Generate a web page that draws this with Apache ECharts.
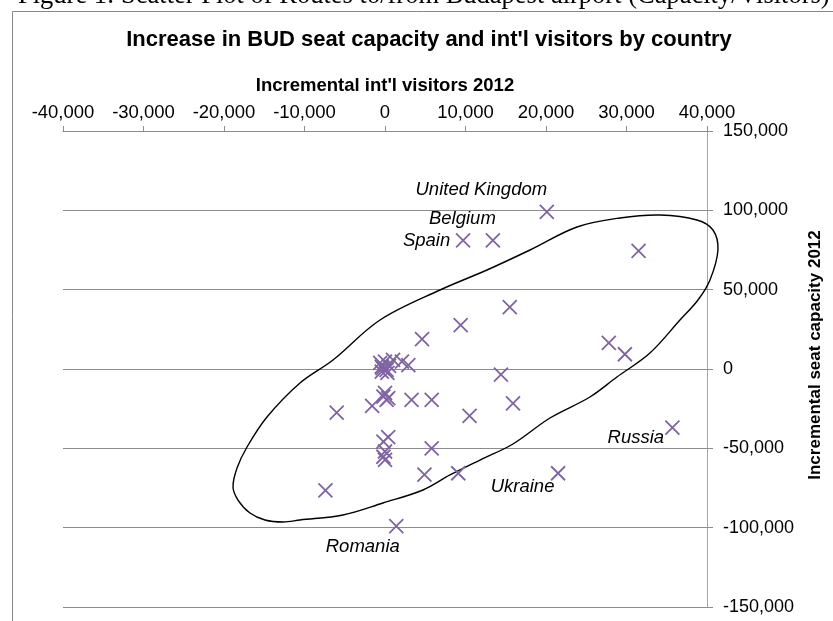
<!DOCTYPE html>
<html>
<head>
<meta charset="utf-8">
<title>Increase in BUD seat capacity and int'l visitors by country</title>
<script src="https://cdn.jsdelivr.net/npm/echarts@6/dist/echarts.min.js"></script>
<style>
  html, body { margin: 0; padding: 0; background: #fff; }
  #chart { width: 833px; height: 621px; }
</style>
</head>
<body>
<div id="chart"></div>
<script>
// Incremental int'l visitors 2012 (x) and incremental BUD seat capacity 2012 (y), one entry per country
const countries = [
  'United Kingdom', 'Spain', 'Belgium', '', '', '', '', '', '', 'Russia',
  'Ukraine', '', '', '', '', '', '', 'Romania', '', '',
  '', '', '', '', '', '', '', '', '', '',
  '', '', '', '', '', '', '', '', '', '',
  '', '', ''
];
const visitors = [
  20100, 9700, 13400, 31500, 15500, 9400, 4600, 27800, 29800, 35700,
  21500, 14400, 15900, 10500, 9100, 5800, 4900, 1400, -7400, -6000,
  -1600, 3300, 5800, -200, 200, 0, 400, 400, -200, 0,
  -200, 0, -400, 0, 1000, 2100, 2900, -400, 200, -300,
  500, -600, 300
];
const seatCapacity = [
  99000, 81000, 81000, 74500, 39000, 27700, 18900, 16500, 9300, -37000,
  -65700, -3600, -21600, -29600, -65700, -50000, -66600, -99000, -76500, -27500,
  -23300, -19500, -19500, -17400, -19500, -15000, -18300, -43000, -45800, -52000,
  -55300, -57300, 1500, 4600, 5700, 4600, 2500, -1700, -600, 600,
  1900, 3800, -2500
];

// Hand-drawn grouping outline (visitors, seat capacity)
const outlineVisitors = [
  -18880, -18380, -17140, -14660, -10560, -6460, -620, 6830, 12670, 18010,
  23850, 29190, 34160, 38750, 40740, 41360, 40370, 38880, 36640, 32910,
  28810, 25460, 20490, 15900, 11800, 8070, 4720, -250, -5220, -10560,
  -12670, -14910, -16770, -18260
];
const outlineSeats = [
  -74380, -62400, -49150, -30250, -8820, 5670, 30880, 49790, 62400, 75000,
  89500, 95180, 97060, 93910, 87610, 75000, 56100, 43500, 30880, 10080,
  -5040, -17650, -30880, -47270, -57360, -66800, -76250, -84440, -92000, -95150,
  -96410, -95150, -90760, -82570
];

// Axis ranges and steps
const xMin = -40000, xMax = 40000, xStep = 10000;
const yMin = -150000, yMax = 150000, yStep = 50000;

// Where each country name sits relative to its marker (px)
const nameOffsets = {
  'United Kingdom': [-63, -20],
  'Belgium': [-28, -19],
  'Spain': [-34, 3],
  'Russia': [-34, 13],
  'Ukraine': [-33, 16],
  'Romania': [-31, 23]
};

const fmt = v => v.toLocaleString('en-US');
const FONT = 'Liberation Sans, Arial, sans-serif';
const PURPLE = '#8064a2';
const MARK = 14;

const points = visitors.map((v, i) => {
  const item = { value: [v, seatCapacity[i]], name: countries[i] };
  if (countries[i]) {
    const off = nameOffsets[countries[i]];
    item.label = {
      show: true,
      // position is measured from the marker's top-left corner
      position: [MARK / 2 + off[0], MARK / 2 + off[1]],
      align: 'center',
      verticalAlign: 'middle',
      formatter: '{b}',
      color: '#000',
      fontStyle: 'italic',
      fontFamily: FONT,
      fontSize: 18.5
    };
  }
  return item;
});
// Country names paint last so they sit over the cluster
points.sort((a, b) => (a.name ? 1 : 0) - (b.name ? 1 : 0));

const outline = outlineVisitors.map((v, i) => [v, outlineSeats[i]]);

const chart = echarts.init(document.getElementById('chart'), null, { renderer: 'canvas' });
chart.setOption({
  backgroundColor: '#fff',
  animation: false,
  title: {
    text: "Increase in BUD seat capacity and int'l visitors by country",
    left: 424,
    top: 24,
    textAlign: 'center',
    textStyle: { fontFamily: FONT, fontWeight: 'bold', fontSize: 22, color: '#000' }
  },
  graphic: [
    {
      type: 'text',
      left: 18,
      top: -17,
      silent: true,
      style: {
        text: 'Figure 1: Scatter Plot of Routes to/from Budapest airport (Capacity/Visitors)',
        font: '26.5px "Liberation Serif", "Times New Roman", serif',
        fill: '#000'
      }
    },
    {
      type: 'rect',
      shape: { x: 12.5, y: 11.5, width: 900, height: 700 },
      silent: true,
      z: -10,
      style: { fill: 'none', stroke: '#888', lineWidth: 1 }
    }
  ],
  grid: { left: 63, right: 126, top: 131, bottom: 14, containLabel: false },
  xAxis: {
    type: 'value',
    position: 'top',
    min: xMin, max: xMax, interval: xStep,
    name: "Incremental int'l visitors 2012",
    nameLocation: 'middle',
    nameGap: 36,
    nameTextStyle: { fontFamily: FONT, fontWeight: 'bold', fontSize: 18.5, color: '#000' },
    axisLine: { show: true, onZero: false, lineStyle: { color: '#8c8c8c', width: 1 } },
    axisTick: { show: true, inside: false, length: 5, lineStyle: { color: '#8c8c8c' } },
    axisLabel: { margin: 9, fontFamily: FONT, fontSize: 18.5, color: '#000', formatter: fmt },
    splitLine: { show: false }
  },
  yAxis: {
    type: 'value',
    position: 'right',
    min: yMin, max: yMax, interval: yStep,
    name: 'Incremental seat capacity 2012',
    nameLocation: 'middle',
    nameRotate: 90,
    nameGap: 100,
    nameTextStyle: { fontFamily: FONT, fontWeight: 'bold', fontSize: 17, color: '#000', padding: [0, 0, 0, 28] },
    axisLine: { show: true, onZero: false, lineStyle: { color: '#a6a6a6', width: 1 } },
    axisTick: { show: true, inside: false, length: 6, lineStyle: { color: '#8c8c8c' } },
    axisLabel: { margin: 16, fontFamily: FONT, fontSize: 18, color: '#000', formatter: fmt, align: 'left' },
    splitLine: { show: true, lineStyle: { color: '#8c8c8c', width: 1 } }
  },
  series: [
    {
      // closed outline around the main group, placed through the axes' scales
      name: 'outline',
      type: 'custom',
      coordinateSystem: 'cartesian2d',
      data: [[outline[0][0], outline[0][1]]],
      silent: true,
      clip: false,
      z: 3,
      renderItem: function (params, api) {
        const pts = outline.map(p => api.coord(p));
        return {
          type: 'polygon',
          shape: { points: pts, smooth: 0.35 },
          style: { fill: 'none', stroke: '#000', lineWidth: 1.4 }
        };
      }
    },
    {
      name: 'countries',
      type: 'scatter',
      data: points,
      symbol: 'path://M0,0L10,10M10,0L0,10',
      symbolSize: MARK,
      clip: false,
      itemStyle: { color: 'none', borderColor: PURPLE, borderWidth: 1.8, opacity: 1 },
      label: { show: false },
      z: 4
    }
  ]
});
</script>
</body>
</html>
